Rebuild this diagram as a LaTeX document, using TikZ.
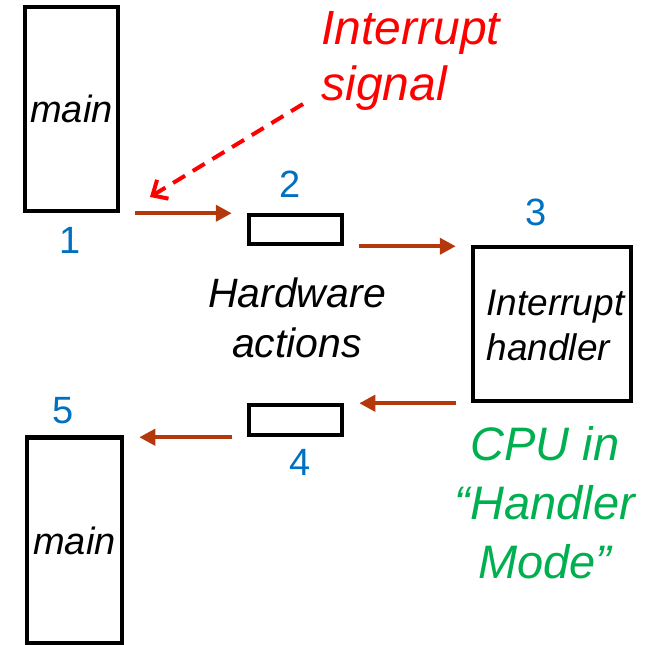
\documentclass[tikz,border=0pt]{standalone}
\usepackage{fontspec}
\setmainfont{Liberation Sans}
\usepackage{tikz}
\usetikzlibrary{arrows.meta,calc}
\definecolor{ColFlow}{RGB}{180,56,12}
\definecolor{ColNum}{RGB}{0,112,192}
\definecolor{ColIrq}{RGB}{255,0,0}
\definecolor{ColMode}{RGB}{0,176,80}

\begin{document}
\begin{tikzpicture}[
  x=1pt, y=-1pt,
  line cap=butt,
  line join=miter,
  codebox/.style={draw=black, line width=4.5pt, fill=white, inner sep=0pt},
  flow/.style={-{Triangle[length=16pt,width=16pt]}, line width=4pt, ColFlow,
    shorten <=15pt, shorten >=15pt},
  stepnum/.style={ColNum, font=\fontsize{38}{42}\selectfont},
  every node/.style={font=\itshape}
]
  \useasboundingbox (0,0) rectangle (645,645);

  % Boxes of the sequence
  \node[codebox, minimum width=93pt, minimum height=204pt,
    font=\itshape\fontsize{38}{42}\selectfont] (main1) at (71.5,109) {main};
  \node[codebox, minimum width=93pt, minimum height=29pt] (hw1) at (295.5,229.5) {};
  \node[codebox, minimum width=158pt, minimum height=154pt] (isr) at (552,324) {};
  \node[codebox, minimum width=93pt, minimum height=30pt] (hw2) at (295.5,420) {};
  \node[codebox, minimum width=95pt, minimum height=206pt,
    font=\itshape\fontsize{38}{42}\selectfont] (main2) at (74.5,540.5) {main};

  % (base of a two-line node = base of its last line)
  \node[anchor=base west, align=left, font=\itshape\fontsize{37}{45}\selectfont]
    (isrtxt) at (483,360) {Interrupt\\handler};

  % Step numbers
  \node[stepnum] (n1) at (70,240) {1};
  \node[stepnum] (n2) at (290,184) {2};
  \node[stepnum] (n3) at (536,212) {3};
  \node[stepnum] (n4) at (300,462) {4};
  \node[stepnum] (n5) at (63,411) {5};

  % Captions
  \node[anchor=base west, align=left, ColIrq, font=\itshape\fontsize{48}{56}\selectfont]
    (irq) at (318,100) {Interrupt\\signal};
  \node[anchor=base, align=center, font=\itshape\fontsize{41}{50}\selectfont]
    (hwtxt) at (297,357) {Hardware\\actions};
  \node[anchor=base, align=center, ColMode, font=\itshape\fontsize{47}{59}\selectfont]
    (mode) at (545,578) {CPU in\\“Handler\\Mode”};

  % Control flow between the boxes
  \draw[flow] (main1.south east) -- (main1.south east -| hw1.north west);
  \draw[flow] (hw1.south east) -- (hw1.south east -| isr.north west);
  \draw[flow] (isr.south west) -- (isr.south west -| hw2.north east);
  \draw[flow] (hw2.south west) -- (hw2.south west -| main2.north east);

  % Interrupt request arriving
  \coordinate (irqsrc) at (303,104);
  \coordinate (irqdst) at (150,197);
  \draw[-{Straight Barb[length=12pt,width=22pt]}, ColIrq, line width=4pt,
    dash pattern=on 14pt off 9pt] (irqsrc) -- (irqdst);
\end{tikzpicture}
\end{document}
